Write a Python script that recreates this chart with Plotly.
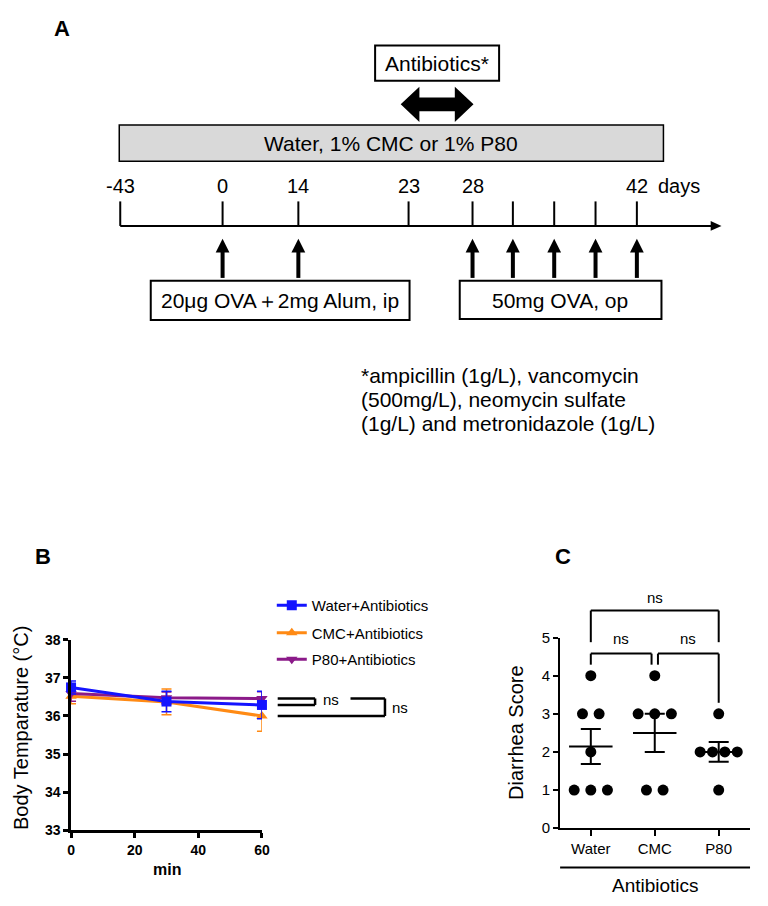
import plotly.graph_objects as go
import numpy as np

# ------------------------------------------------------------------ data
# Panel B: body temperature (mean ± SEM)
time_min = [0, 30, 60]
series_names = ["Water+Antibiotics", "CMC+Antibiotics", "P80+Antibiotics"]
water_temp = [36.75, 36.38, 36.29]
water_sem = [0.17, 0.27, 0.36]
cmc_temp = [36.52, 36.37, 36.00]
cmc_sem = [0.20, 0.34, 0.40]
p80_temp = [36.59, 36.48, 36.46]
p80_sem = [0.20, 0.15, 0.18]
b_y_ticks = [33, 34, 35, 36, 37, 38]
b_x_ticks = [0, 20, 40, 60]

# Panel C: diarrhea scores per mouse
groups = ["Water", "CMC", "P80"]
water_score = [4, 3, 3, 2, 1, 1, 1]
cmc_score = [4, 3, 3, 3, 1, 1]
p80_score = [3, 2, 2, 2, 2, 1]
c_y_ticks = [0, 1, 2, 3, 4, 5]

# Panel A: timeline labels
timeline_labels = ["-43", "0", "14", "23", "28", "", "", "", "42"]
footnote_lines = ["*ampicillin (1g/L), vancomycin",
                  "(500mg/L), neomycin sulfate",
                  "(1g/L) and metronidazole (1g/L)"]

# ------------------------------------------------------------------ layout helpers
# the page body has an 8px margin, so the figure is 16px smaller than the window
# and all page-pixel positions are shifted by that margin
PAGE_W, PAGE_H, OFF = 768, 906, 8
W, H = PAGE_W - 2 * OFF, PAGE_H - 2 * OFF
FONT = "Liberation Sans, Arial, Helvetica, sans-serif"


def PX(x):
    return (x - OFF) / W


def PY(y):
    return 1 - (y - OFF) / H


shapes = []
annotations = []


def seg(x0, y0, x1, y1, w=2.0):
    shapes.append(dict(type="line", xref="paper", yref="paper",
                       x0=PX(x0), y0=PY(y0), x1=PX(x1), y1=PY(y1),
                       line=dict(color="black", width=w)))


def box(x0, y0, x1, y1, fill="white", w=2.0):
    shapes.append(dict(type="rect", xref="paper", yref="paper",
                       x0=PX(x0), y0=PY(y0), x1=PX(x1), y1=PY(y1),
                       fillcolor=fill, line=dict(color="black", width=w),
                       layer="below"))


def poly(points):
    p = "M " + " L ".join(f"{PX(x):.5f},{PY(y):.5f}" for x, y in points) + " Z"
    shapes.append(dict(type="path", xref="paper", yref="paper", path=p,
                       fillcolor="black", line=dict(color="black", width=0)))


def text(x, y, s, size=21, bold=False, xanchor="center", yanchor="middle", angle=0):
    annotations.append(dict(x=PX(x), y=PY(y), xref="paper", yref="paper", text=s,
                            showarrow=False, xanchor=xanchor, yanchor=yanchor,
                            textangle=angle,
                            font=dict(family=FONT, size=size, color="black",
                                      weight="bold" if bold else "normal")))


# ------------------------------------------------------------------ Panel A (schematic)
text(59, 20, "A", size=22, bold=True)

box(377, 37, 503, 73)
text(440, 55, "Antibiotics*")
poly([(403, 97), (422, 79), (422, 90), (458, 90), (458, 79), (477, 97),
      (458, 115), (458, 104), (422, 104), (422, 115)])

box(117, 118, 670, 155, fill="#d9d9d9", w=1.5)
text(393, 137, "Water, 1% CMC or 1% P80")

tick_px = [118, 222, 299, 411, 476, 517, 559, 601, 643]
axis_y = 221
seg(118, axis_y, 720, axis_y)
poly([(729, axis_y), (718, axis_y - 5), (718, axis_y + 5)])
for xp, lab in zip(tick_px, timeline_labels):
    seg(xp, 196, xp, axis_y)
    if lab:
        text(xp, 180, lab, size=20)
text(686, 180, "days", size=20)

arrow_px = [222, 299, 476, 517, 559, 601, 643]
for xp in arrow_px:
    seg(xp, 246, xp, 274, w=4)
    poly([(xp, 234), (xp - 7, 248), (xp + 7, 248)])

box(149, 277, 412, 317)
text(280, 297, "20μg OVA＋2mg Alum, ip")
box(463, 277, 668, 316)
text(565, 297, "50mg OVA, op")

for i, line in enumerate(footnote_lines):
    text(361, 373 + i * 24.5, line, xanchor="left")

# ------------------------------------------------------------------ Panel B
B_X = (68, 262)
B_Y = (643, 837)  # top (38), bottom (33)
b_range_x = [0, 60]
b_range_y = [33, 38]


def b_y(v):
    return B_Y[1] - (v - b_range_y[0]) / (b_range_y[1] - b_range_y[0]) * (B_Y[1] - B_Y[0])


text(40, 558, "B", size=22, bold=True)

fig = go.Figure()

colors = {"water": "#1414ff", "cmc": "#ff8a14", "p80": "#8b1a89"}
b_series = [
    ("cmc", series_names[1], cmc_temp, cmc_sem, "triangle-up", "legend2"),
    ("p80", series_names[2], p80_temp, p80_sem, "triangle-down", "legend3"),
    ("water", series_names[0], water_temp, water_sem, "square", "legend"),
]
for key, name, vals, sem, sym, leg in b_series:
    fig.add_trace(go.Scatter(
        x=time_min, y=vals, name=name, mode="lines+markers",
        line=dict(color=colors[key], width=3),
        marker=dict(symbol=sym, size=10, color=colors[key]),
        error_y=dict(type="data", array=sem, color=colors[key], thickness=1.5, width=5),
        cliponaxis=False, xaxis="x", yaxis="y", legend=leg, showlegend=True))

leg_common = dict(xanchor="left", yanchor="middle", bgcolor="rgba(0,0,0,0)",
                  font=dict(family=FONT, size=15, color="black"), itemwidth=30,
                  borderwidth=0)

# significance brackets (B), anchored to the end values of the series
bx_a, bx_b, bx_c, bx_d = 278, 316, 352, 387
y_top = b_y(p80_temp[-1])
y_w = b_y(water_temp[-1])
y_c = b_y(cmc_temp[-1])
seg(bx_a, y_top, bx_b, y_top, 2.5)
seg(bx_b, y_top, bx_b, y_w, 2.5)
seg(bx_b, y_w, bx_a, y_w, 2.5)
text(322, (y_top + y_w) / 2 - 2, "ns", size=15, xanchor="left")
seg(bx_c, y_top, bx_d, y_top, 2.5)
seg(bx_d, y_top, bx_d, y_c, 2.5)
seg(bx_d, y_c, bx_a, y_c, 2.5)
text(392, (y_top + y_c) / 2, "ns", size=15, xanchor="left")

text(17, 733, "Body Temparature (°C)", size=20, angle=-90)
text(166, 877, "min", size=16, bold=True)

# ------------------------------------------------------------------ Panel C
C_X = (565, 758)
C_Y = (640.7, 835)
c_range_x = [0.52, 3.49]
c_range_y = [0, 5]


def c_x(v):
    return C_X[0] + (v - c_range_x[0]) / (c_range_x[1] - c_range_x[0]) * (C_X[1] - C_X[0])


def c_y(v):
    return C_Y[1] - (v - c_range_y[0]) / (c_range_y[1] - c_range_y[0]) * (C_Y[1] - C_Y[0])


text(568, 558, "C", size=22, bold=True)

step, max_span = 0.26, 0.58
for gi, scores in enumerate([water_score, cmc_score, p80_score], start=1):
    arr = np.array(scores, dtype=float)
    xs, ys = [], []
    for v in sorted(set(scores), reverse=True):
        n = int((arr == v).sum())
        sp = step if n < 2 else min(step, max_span / (n - 1))
        offs = (np.arange(n) - (n - 1) / 2) * sp
        xs += list(gi + offs)
        ys += [v] * n
    fig.add_trace(go.Scatter(x=xs, y=ys, mode="markers",
                             marker=dict(symbol="circle", size=11, color="black"),
                             xaxis="x2", yaxis="y2", showlegend=False, cliponaxis=False))
    mean = arr.mean()
    sem = arr.std(ddof=1) / np.sqrt(len(arr))
    fig.add_trace(go.Scatter(x=[gi - 0.34, gi + 0.34], y=[mean, mean], mode="lines",
                             line=dict(color="black", width=2),
                             xaxis="x2", yaxis="y2", showlegend=False, cliponaxis=False))
    fig.add_trace(go.Scatter(x=[gi], y=[mean], mode="markers",
                             marker=dict(size=1, color="rgba(0,0,0,0)"),
                             error_y=dict(type="data", array=[sem], color="black",
                                          thickness=2, width=10),
                             xaxis="x2", yaxis="y2", showlegend=False, cliponaxis=False))

# significance brackets (C)
lvl_bar, lvl_end_gap, lvl_top, lvl_top_end = 4.58, 0.29, 5.71, 4.88
gmax = [max(water_score), max(cmc_score), max(p80_score)]
pairs = [(1, 1.95, 0, 1), (2.05, 3, 1, 2)]
for xa, xb, ia, ib in pairs:
    ya, yb = c_y(gmax[ia] + lvl_end_gap), c_y(gmax[ib] + lvl_end_gap)
    yt = c_y(lvl_bar)
    seg(c_x(xa), ya, c_x(xa), yt, 2)
    seg(c_x(xa), yt, c_x(xb), yt, 2)
    seg(c_x(xb), yt, c_x(xb), yb, 2)
    text((c_x(xa) + c_x(xb)) / 2, yt - 15, "ns", size=15)
yt = c_y(lvl_top)
seg(c_x(1), c_y(lvl_top_end), c_x(1), yt, 2)
seg(c_x(1), yt, c_x(3), yt, 2)
seg(c_x(3), yt, c_x(3), c_y(lvl_top_end), 2)
text(c_x(2), yt - 13, "ns", size=15)

seg(C_X[0], 875, C_X[1], 875, 2)
text((C_X[0] + C_X[1]) / 2, 893, "Antibiotics", size=19)
text(520, 737, "Diarrhea Score", size=20, angle=-90)

# ------------------------------------------------------------------ layout
axis_common = dict(showgrid=False, zeroline=False, showline=True, linecolor="black",
                   ticks="outside", tickcolor="black")
fig.update_layout(
    width=W, height=H, autosize=False,
    margin=dict(l=0, r=0, t=0, b=0),
    paper_bgcolor="white", plot_bgcolor="white",
    font=dict(family=FONT, color="black"),
    xaxis=dict(domain=[PX(B_X[0]), PX(B_X[1])], range=b_range_x, tickvals=b_x_ticks,
               linewidth=2.5, tickwidth=2.5, ticklen=5, anchor="y",
               tickfont=dict(family=FONT, size=14, weight="bold"), **axis_common),
    yaxis=dict(domain=[PY(B_Y[1]), PY(B_Y[0])], range=b_range_y, tickvals=b_y_ticks,
               linewidth=2.5, tickwidth=2.5, ticklen=5, anchor="x",
               tickfont=dict(family=FONT, size=14, weight="bold"), **axis_common),
    xaxis2=dict(domain=[PX(C_X[0]), PX(C_X[1])], range=c_range_x, tickvals=[1, 2, 3],
                ticktext=groups, linewidth=2, tickwidth=2, ticklen=6, anchor="y2",
                tickfont=dict(family=FONT, size=15), **axis_common),
    yaxis2=dict(domain=[PY(C_Y[1]), PY(C_Y[0])], range=c_range_y, tickvals=c_y_ticks,
                linewidth=2, tickwidth=2, ticklen=5, anchor="x2",
                tickfont=dict(family=FONT, size=15), **axis_common),
    legend=dict(x=PX(272), y=PY(608), **leg_common),
    legend2=dict(x=PX(272), y=PY(636), **leg_common),
    legend3=dict(x=PX(272), y=PY(663), **leg_common),
    shapes=shapes,
    annotations=annotations,
)

fig.write_html("out.html")
